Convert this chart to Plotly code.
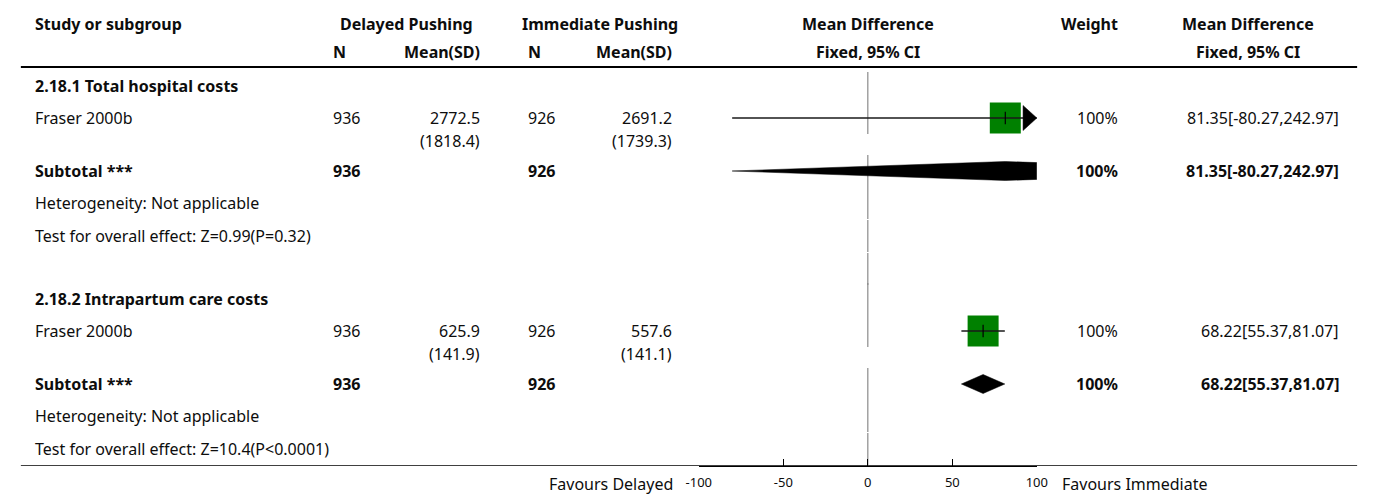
import plotly.graph_objects as go

# ---- data -------------------------------------------------------------
groups = ["2.18.1 Total hospital costs", "2.18.2 Intrapartum care costs"]
studies = ["Fraser 2000b", "Fraser 2000b"]
n_delayed = [936, 936]
mean_delayed = [2772.5, 625.9]
sd_delayed = [1818.4, 141.9]
n_immediate = [926, 926]
mean_immediate = [2691.2, 557.6]
sd_immediate = [1739.3, 141.1]
md = [81.35, 68.22]
ci_lo = [-80.27, 55.37]
ci_hi = [242.97, 81.07]
weights = [100, 100]
heterogeneity = ["Not applicable", "Not applicable"]
overall_effect = ["Z=0.99(P=0.32)", "Z=10.4(P<0.0001)"]
x_ticks = [-100, -50, 0, 50, 100]

# ---- layout constants (pixels) ----------------------------------------
W, H = 1375, 496
FONT = "Noto Sans"
FS = 16
PLOT_L, PLOT_R = 698, 1042
AXIS_Y = 466
XMIN, XMAX = -100, 100
group_top = [86, 299]
row_off = [0, 32, 85, 117, 150]   # header, study, subtotal, heterogeneity, test
SD_OFF = 23

X_LEFT = 22
X_N1, X_M1 = 326, 475
X_N2, X_M2 = 524, 671
X_WT = 1125
X_CI = 1350
X_CI_HEAD = 1257
X_PLOT_C = (PLOT_L + PLOT_R) / 2

px_per_unit = (PLOT_R - PLOT_L) / (XMAX - XMIN)

fig = go.Figure()
ann = []


def text(x, y, s, anchor="left", bold=False, size=FS, color="#0d0d0d"):
    ann.append(dict(
        x=x / W, y=1 - y / H, xref="paper", yref="paper",
        text=f"<b>{s}</b>" if bold else s,
        showarrow=False, xanchor=anchor, yanchor="middle",
        borderpad=0, borderwidth=0,
        font=dict(family=FONT, size=size, color=color),
    ))


# column headers
text(X_LEFT, 24, "Study or subgroup", bold=True)
text((X_N1 + X_M1) / 2, 24, "Delayed Pushing", "center", True)
text((X_N2 + X_M2) / 2, 24, "Immediate Pushing", "center", True)
text(X_PLOT_C, 24, "Mean Difference", "center", True)
text(X_WT, 24, "Weight", "right", True)
text(X_CI_HEAD, 24, "Mean Difference", "center", True)
text(X_N1, 52, "N", bold=True)
text(X_M1, 52, "Mean(SD)", "right", True)
text(X_N2, 52, "N", bold=True)
text(X_M2, 52, "Mean(SD)", "right", True)
text(X_PLOT_C, 52, "Fixed, 95% CI", "center", True)
text(X_CI_HEAD, 52, "Fixed, 95% CI", "center", True)

shapes = []
line_rows = []

for i, g in enumerate(groups):
    gy = group_top[i]
    y_head, y_study, y_sub, y_het, y_test = [gy + o for o in row_off]
    line_rows += [y_head, y_study, y_sub, y_het, y_test]

    text(X_LEFT, y_head, g, bold=True)

    # study row
    text(X_LEFT, y_study, studies[i])
    text(X_N1, y_study, f"{n_delayed[i]}")
    text(X_M1, y_study, f"{mean_delayed[i]}", "right")
    text(X_M1, y_study + SD_OFF, f"({sd_delayed[i]})", "right")
    text(X_N2, y_study, f"{n_immediate[i]}")
    text(X_M2, y_study, f"{mean_immediate[i]}", "right")
    text(X_M2, y_study + SD_OFF, f"({sd_immediate[i]})", "right")
    text(X_WT, y_study, f"{weights[i]}%", "right")
    text(X_CI, y_study, f"{md[i]:.2f}[{ci_lo[i]:.2f},{ci_hi[i]:.2f}]", "right")

    # subtotal row
    text(X_LEFT, y_sub, "Subtotal ***", bold=True)
    text(X_N1, y_sub, f"{n_delayed[i]}", bold=True)
    text(X_N2, y_sub, f"{n_immediate[i]}", bold=True)
    text(X_WT, y_sub, f"{weights[i]}%", "right", True)
    text(X_CI, y_sub, f"{md[i]:.2f}[{ci_lo[i]:.2f},{ci_hi[i]:.2f}]", "right", True)

    text(X_LEFT, y_het, f"Heterogeneity: {heterogeneity[i]}")
    text(X_LEFT, y_test, f"Test for overall effect: {overall_effect[i]}")

    # study square (size from weight)
    side = 31 * (weights[i] / 100) ** 0.5
    fig.add_trace(go.Scatter(
        x=[md[i]], y=[y_study], mode="markers",
        marker=dict(symbol="square", size=side, color="#008000", line=dict(width=0)),
        hoverinfo="skip", showlegend=False,
    ))
    # confidence interval line
    fig.add_trace(go.Scatter(
        x=[ci_lo[i], ci_hi[i]], y=[y_study, y_study], mode="lines",
        line=dict(color="#1a1a1a", width=1.6), hoverinfo="skip", showlegend=False,
    ))
    # point-estimate tick
    fig.add_trace(go.Scatter(
        x=[md[i]], y=[y_study], mode="markers",
        marker=dict(symbol="line-ns", size=9, color="#000000",
                    line=dict(color="#000000", width=1.2)),
        hoverinfo="skip", showlegend=False,
    ))
    # arrow where the interval runs past the axis
    aw = 14 / px_per_unit
    if ci_hi[i] > XMAX:
        fig.add_trace(go.Scatter(
            x=[XMAX - aw, XMAX, XMAX - aw, XMAX - aw],
            y=[y_study - 12.5, y_study, y_study + 12.5, y_study - 12.5],
            mode="lines", fill="toself", fillcolor="#000000",
            line=dict(color="#000000", width=0.5), hoverinfo="skip", showlegend=False,
        ))
    if ci_lo[i] < XMIN:
        fig.add_trace(go.Scatter(
            x=[XMIN + aw, XMIN, XMIN + aw, XMIN + aw],
            y=[y_study - 12.5, y_study, y_study + 12.5, y_study - 12.5],
            mode="lines", fill="toself", fillcolor="#000000",
            line=dict(color="#000000", width=0.5), hoverinfo="skip", showlegend=False,
        ))

    # pooled diamond
    dh = 9.5
    fig.add_trace(go.Scatter(
        x=[ci_lo[i], md[i], ci_hi[i], md[i], ci_lo[i]],
        y=[y_sub, y_sub - dh, y_sub, y_sub + dh, y_sub],
        mode="lines", fill="toself", fillcolor="#000000",
        line=dict(color="#000000", width=0.5), hoverinfo="skip", showlegend=False,
    ))

# blank spacer row between groups also carries the null line
line_rows.append(group_top[0] + row_off[-1] + 33)

# null-effect line, drawn as one segment per row
for ry in line_rows:
    shapes.append(dict(type="line", xref="x", yref="y", x0=0, x1=0,
                       y0=max(ry - 16, 72), y1=ry + 16,
                       line=dict(color="#8a8a8a", width=1.2), layer="below"))

# header rule and bottom rule across the table
shapes.append(dict(type="line", xref="paper", yref="y", x0=8 / W, x1=1368 / W,
                   y0=67, y1=67, line=dict(color="#000000", width=2)))
shapes.append(dict(type="line", xref="paper", yref="y", x0=8 / W, x1=1368 / W,
                   y0=AXIS_Y, y1=AXIS_Y, line=dict(color="#000000", width=1.6)))

# favours labels
text(672, 484, "Favours Delayed", "right")
text(1068, 484, "Favours Immediate", "left")

fig.update_layout(
    width=W, height=H,
    margin=dict(l=0, r=0, t=0, b=0),
    paper_bgcolor="white", plot_bgcolor="white",
    showlegend=False,
    xaxis=dict(
        domain=[PLOT_L / W, PLOT_R / W], range=[XMIN, XMAX],
        showgrid=False, zeroline=False, showline=True, linecolor="#000000", linewidth=1,
        ticks="inside", ticklen=7, tickcolor="#000000", tickwidth=1,
        tickvals=x_ticks, ticktext=[str(t) for t in x_ticks],
        tickfont=dict(family=FONT, size=13, color="#0d0d0d"),
        ticklabelstandoff=4,
        fixedrange=True,
    ),
    yaxis=dict(
        domain=[1 - AXIS_Y / H, 1], range=[AXIS_Y, 0],
        visible=False, fixedrange=True,
    ),
    annotations=ann,
    shapes=shapes,
)

fig.write_html("out.html")
